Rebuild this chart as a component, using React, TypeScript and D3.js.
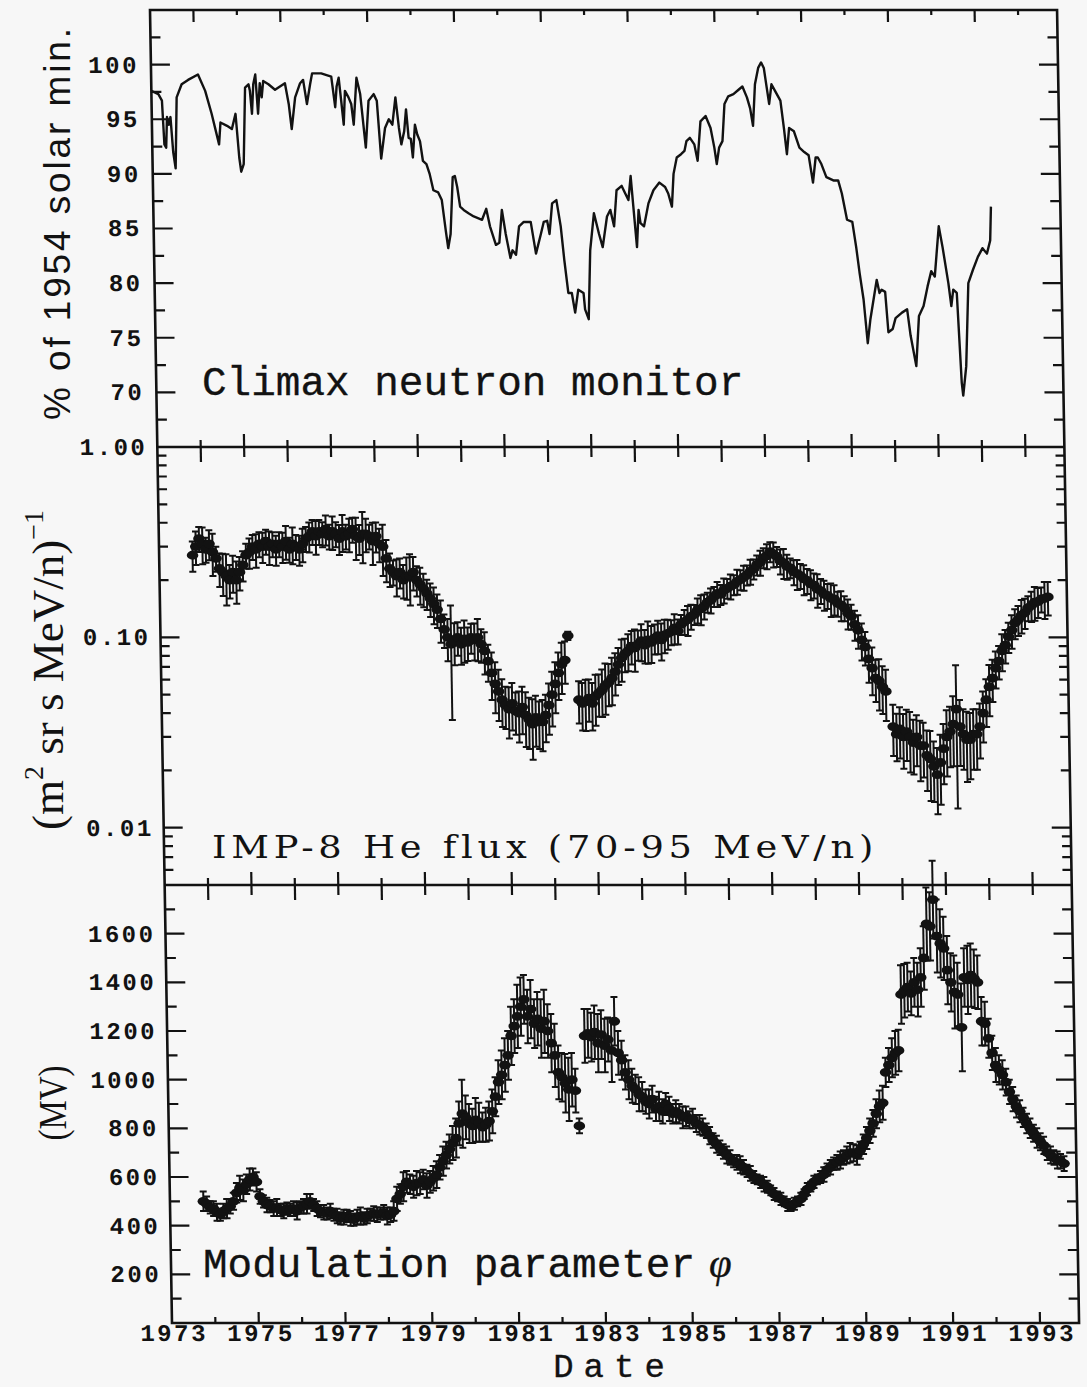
import React from "react";
import * as d3 from "d3";

// ---------------- data ----------------
const CLIMAX_YEARS = [
  1973.0, 1973.16, 1973.24, 1973.28, 1973.32, 1973.35, 1973.39, 1973.43, 1973.48, 1973.53,
  1973.58, 1973.7, 1973.85, 1974.08, 1974.24, 1974.38, 1974.54, 1974.58, 1974.73, 1974.84,
  1974.93, 1975.0, 1975.04, 1975.1, 1975.16, 1975.24, 1975.27, 1975.31, 1975.35, 1975.4,
  1975.45, 1975.5, 1975.54, 1975.58, 1975.7, 1975.85, 1976.08, 1976.16, 1976.22, 1976.31,
  1976.43, 1976.5, 1976.58, 1976.66, 1976.71, 1976.92, 1977.15, 1977.23, 1977.27, 1977.32,
  1977.37, 1977.42, 1977.46, 1977.54, 1977.6, 1977.65, 1977.73, 1977.81, 1977.92, 1978.0,
  1978.12, 1978.19, 1978.27, 1978.37, 1978.46, 1978.54, 1978.62, 1978.69, 1978.74, 1978.81,
  1978.86, 1978.91, 1978.96, 1979.0, 1979.06, 1979.11, 1979.17, 1979.23, 1979.31, 1979.38,
  1979.46, 1979.57, 1979.65, 1979.73, 1979.78, 1979.84, 1979.91, 1979.96, 1980.01, 1980.07,
  1980.15, 1980.26, 1980.38, 1980.57, 1980.67, 1980.75, 1980.88, 1980.96, 1981.03, 1981.11,
  1981.21, 1981.26, 1981.34, 1981.42, 1981.53, 1981.69, 1981.8, 1981.92, 1981.99, 1982.07,
  1982.12, 1982.19, 1982.29, 1982.38, 1982.45, 1982.53, 1982.61, 1982.68, 1982.76, 1982.88,
  1982.91, 1982.99, 1983.05, 1983.15, 1983.26, 1983.34, 1983.45, 1983.53, 1983.61, 1983.68,
  1983.8, 1983.88, 1983.95, 1984.01, 1984.05, 1984.13, 1984.18, 1984.22, 1984.3, 1984.41,
  1984.53, 1984.67, 1984.8, 1984.87, 1984.95, 1985.0, 1985.08, 1985.18, 1985.26, 1985.31,
  1985.39, 1985.49, 1985.56, 1985.64, 1985.76, 1985.87, 1985.95, 1986.0, 1986.06, 1986.14,
  1986.2, 1986.29, 1986.41, 1986.53, 1986.62, 1986.72, 1986.79, 1986.85, 1986.91, 1986.99,
  1987.06, 1987.12, 1987.18, 1987.23, 1987.29, 1987.37, 1987.49, 1987.56, 1987.62, 1987.68,
  1987.79, 1987.91, 1988.02, 1988.12, 1988.21, 1988.28, 1988.33, 1988.41, 1988.52, 1988.68,
  1988.79, 1988.87, 1988.98, 1989.1, 1989.18, 1989.25, 1989.33, 1989.41, 1989.48, 1989.56,
  1989.64, 1989.7, 1989.75, 1989.83, 1989.89, 1989.99, 1990.06, 1990.21, 1990.33, 1990.4,
  1990.52, 1990.6, 1990.71, 1990.81, 1990.9, 1990.98, 1991.09, 1991.17, 1991.29, 1991.35,
  1991.4, 1991.48, 1991.56, 1991.59, 1991.67, 1991.75, 1991.86, 1991.98, 1992.09, 1992.19,
  1992.27, 1992.3,
];
const CLIMAX_PCT = [
  97.6, 97.3, 96.7, 92.7, 92.4, 95.2, 94.5, 95.2, 92.0, 90.5,
  97.0, 98.2, 98.6, 99.1, 97.6, 95.5, 92.7, 94.7, 94.4, 94.1,
  95.5, 91.5, 90.2, 90.9, 97.9, 98.2, 97.6, 95.5, 98.2, 99.1,
  95.5, 98.3, 97.0, 98.5, 98.2, 97.7, 98.3, 96.4, 94.1, 97.0,
  98.3, 98.6, 96.4, 98.2, 99.2, 99.2, 98.9, 96.1, 98.0, 98.8,
  96.7, 94.5, 97.6, 97.0, 96.4, 94.5, 98.8, 97.3, 92.4, 96.7,
  97.3, 96.7, 91.4, 94.2, 95.0, 94.5, 97.0, 94.2, 92.7, 93.9,
  95.9, 93.3, 93.2, 91.5, 94.5, 93.6, 93.0, 91.2, 90.9, 90.0,
  88.5, 88.3, 87.6, 84.8, 83.2, 84.5, 89.7, 89.8, 88.8, 87.0,
  86.7, 86.4, 86.1, 85.8, 86.8, 85.2, 83.5, 83.7, 86.7, 84.5,
  82.3, 83.0, 82.6, 85.2, 85.6, 85.6, 82.7, 84.5, 85.6, 85.7,
  84.5, 87.3, 87.6, 85.2, 82.1, 79.1, 79.1, 77.3, 79.4, 79.1,
  77.6, 76.7, 83.0, 86.4, 84.5, 83.3, 86.1, 86.7, 85.2, 88.5,
  88.9, 88.2, 87.6, 89.8, 87.6, 83.3, 86.7, 85.5, 85.2, 87.3,
  88.5, 89.2, 88.8, 88.2, 87.0, 90.0, 91.5, 91.8, 92.1, 93.0,
  93.3, 92.7, 91.2, 94.8, 95.3, 94.2, 92.4, 90.9, 92.4, 93.0,
  96.4, 97.1, 97.3, 97.7, 98.0, 97.0, 96.0, 94.4, 98.2, 99.7,
  100.2, 99.7, 97.9, 96.4, 98.2, 97.6, 96.7, 94.2, 91.8, 94.2,
  93.9, 92.4, 92.0, 91.7, 89.2, 91.5, 91.5, 90.9, 89.7, 89.4,
  89.4, 88.2, 85.8, 85.6, 83.3, 80.9, 78.5, 74.5, 76.7, 78.5,
  80.3, 79.1, 79.4, 79.2, 75.5, 75.8, 76.8, 77.3, 77.6, 75.2,
  72.4, 77.0, 77.9, 79.7, 81.1, 80.6, 85.2, 83.3, 80.0, 77.9,
  79.4, 79.1, 70.9, 69.7, 72.4, 80.0, 81.2, 82.4, 83.2, 82.7,
  83.9, 87.0,
];

// IMP-8 samples: one value per ~28 days starting at SAMPLE_START
const SAMPLE_START = 1973.77;
const SAMPLE_STEP = 1 / 13;

const HE_FLUX: (number | null)[] = [
  0.27, 0.30, 0.33, 0.31, 0.29, 0.31, 0.28, 0.26, 0.23, 0.22, 0.21, 0.20, 0.22,
  0.20, 0.22, 0.24, 0.27, 0.28, 0.30, 0.29, 0.31, 0.30, 0.32, 0.30, 0.31, 0.29,
  0.31, 0.30, 0.32, 0.29, 0.31, 0.30, 0.29, 0.31, 0.33, 0.34, 0.36, 0.34, 0.36,
  0.35, 0.37, 0.34, 0.36, 0.35, 0.33, 0.36, 0.34, 0.35, 0.37, 0.34, 0.33, 0.35,
  0.35, 0.34, 0.32, 0.34, 0.31, 0.30, 0.26, 0.23, 0.22, 0.21, 0.22, 0.20, 0.21,
  0.21, 0.22, 0.20, 0.19, 0.18, 0.17, 0.16, 0.15, 0.14, 0.125, 0.11, 0.10, 0.092,
  0.095, 0.10, 0.092, 0.098, 0.094, 0.10, 0.097, 0.10, 0.092, 0.085, 0.075, 0.065, 0.057,
  0.052, 0.047, 0.044, 0.042, 0.045, 0.041, 0.040, 0.043, 0.039, 0.037, 0.035, 0.038, 0.036,
  0.036, 0.039, 0.044, 0.050, 0.057, 0.065, 0.072, 0.076, 0.102, null, null, 0.047, 0.045,
  0.046, 0.048, 0.045, 0.049, 0.051, 0.053, 0.056, 0.058, 0.061, 0.066, 0.072, 0.078, 0.082,
  0.085, 0.090, 0.088, 0.092, 0.096, 0.091, 0.097, 0.094, 0.099, 0.102, 0.097, 0.103, 0.105,
  0.107, 0.112, 0.108, 0.117, 0.121, 0.124, 0.129, 0.132, 0.139, 0.141, 0.146, 0.153, 0.157,
  0.164, 0.170, 0.168, 0.177, 0.181, 0.186, 0.189, 0.197, 0.201, 0.207, 0.213, 0.222, 0.229,
  0.240, 0.248, 0.262, 0.268, 0.282, 0.274, 0.266, 0.252, 0.247, 0.236, 0.232, 0.221, 0.216,
  0.211, 0.203, 0.199, 0.191, 0.188, 0.179, 0.176, 0.168, 0.166, 0.160, 0.159, 0.151, 0.148,
  0.143, 0.134, 0.129, 0.117, 0.109, 0.097, 0.089, 0.077, 0.069, 0.061, 0.059, 0.055, 0.052,
  null, 0.034, 0.031, 0.033, 0.030, 0.032, 0.030, 0.028, 0.030, 0.027, 0.027, 0.024, 0.023,
  0.021, 0.019, 0.022, 0.026, 0.030, 0.032, 0.035, 0.042, 0.034, 0.031, 0.029, 0.029, 0.031,
  0.031, 0.034, 0.040, 0.047, 0.055, 0.061, 0.069, 0.075, 0.085, 0.091, 0.101, 0.109, 0.119,
  0.124, 0.131, 0.135, 0.143, 0.147, 0.153, 0.154, 0.159, 0.160, 0.163,
];
const HE_ERR_PCT = [
  18, 20, 15, 22, 15, 18, 25, 15, 20, 25, 30, 20, 22,
  25, 20, 18, 15, 18, 15, 20, 15, 18, 15, 20, 15, 18,
  15, 18, 20, 15, 22, 15, 18, 20, 15, 18, 15, 20, 15,
  15, 18, 15, 20, 15, 18, 22, 15, 20, 15, 25, 18, 30,
  20, 15, 25, 18, 20, 30, 25, 20, 15, 22, 18, 20, 25,
  30, 20, 18, 22, 20, 18, 20, 22, 20, 25, 20, 25, 60,
  25, 20, 22, 25, 20, 18, 22, 25, 20, 25, 22, 28, 30,
  30, 28, 25, 30, 28, 25, 30, 28, 32, 30, 35, 30, 28,
  30, 28, 30, 32, 30, 28, 30, 25, 5, 0, 0, 25, 28,
  30, 25, 28, 30, 25, 28, 30, 25, 28, 25, 22, 25, 20,
  22, 20, 25, 18, 22, 20, 25, 22, 18, 20, 22, 20, 18,
  15, 18, 15, 12, 15, 18, 15, 12, 15, 18, 15, 12, 15,
  12, 15, 12, 15, 12, 15, 12, 15, 12, 15, 12, 15, 12,
  12, 15, 12, 15, 12, 15, 12, 15, 18, 15, 12, 15, 18,
  15, 18, 15, 18, 15, 20, 15, 18, 15, 20, 18, 15, 18,
  15, 18, 15, 18, 20, 22, 20, 25, 28, 25, 30, 28, 30,
  0, 30, 28, 30, 32, 30, 35, 32, 30, 35, 32, 35, 40,
  35, 38, 40, 35, 38, 35, 40, 70, 38, 35, 40, 38, 35,
  35, 32, 30, 28, 30, 25, 22, 20, 22, 20, 18, 20, 18,
  18, 20, 18, 15, 18, 20, 18, 15, 22, 20,
];

const PHI_MV: (number | null)[] = [
  500, 490, 475, 470, 455, 445, 460, 470, 480, 500, 535, 555, 545,
  570, 590, 600, 580, 520, 500, 485, 480, 470, 475, 465, 460, 470,
  465, 470, 460, 475, 480, 490, 500, 485, 470, 460, 455, 450, 460,
  445, 440, 430, 435, 440, 430, 425, 435, 440, 430, 440, 445, 450,
  445, 450, 455, 440, 445, 460, 510, 530, 560, 580, 570, 560, 575,
  575, 590, 565, 580, 595, 610, 640, 665, 690, 715, 740, 760, 820,
  860, 845, 820, 810, 835, 825, 805, 815, 830, 870, 930, 990, 1020,
  1060, 1100, 1180, 1220, 1260, 1300, 1330, 1260, 1290, 1230, 1250, 1210, 1240,
  1200, 1150, 1100, 1030, 1010, 985, 960, 1000, 955, 810, null, 1180, 1190,
  1175, 1195, 1150, 1185, 1140, 1165, 1120, 1240, 1110, 1080, 1030, 1000, 975,
  960, 940, 930, 910, 900, 920, 880, 890, 870, 900, 880, 860, 870,
  860, 845, 850, 835, 840, 820, 815, 805, 790, 770, 750, 735, 720,
  705, 690, 680, 665, 660, 650, 640, 625, 615, 600, 590, 580, 570,
  560, 545, 530, 520, 510, 500, 485, 480, 490, 500, 510, 530, 550,
  560, 580, 590, 600, 610, 630, 640, 655, 660, 670, 680, 690, 700,
  700, 690, 710, 735, 760, 790, 820, 860, 890, 905, 1030, 1060, 1090,
  1110, 1120, 1350, 1365, 1380, 1355, 1400, 1370, 1420, 1500, 1640, 1630, 1740,
  1590, 1560, 1540, 1450, 1400, 1360, 1350, 1215, 1420, 1410, 1430, 1415, 1400,
  1240, 1230, 1170, 1110, 1060, 1040, 1020, 990, 950, 920, 890, 870, 845,
  820, 800, 780, 760, 745, 730, 700, 690, 680, 670, 665, 655,
];
const PHI_ERR_MV = [
  40, 30, 25, 30, 35, 25, 30, 40, 30, 35, 40, 50, 45,
  40, 45, 35, 40, 30, 25, 30, 25, 30, 35, 25, 30, 25,
  25, 30, 35, 25, 30, 40, 30, 25, 30, 25, 30, 25, 30,
  25, 30, 25, 30, 25, 30, 25, 30, 35, 25, 30, 25, 30,
  30, 25, 30, 35, 30, 40, 50, 40, 60, 45, 40, 45, 50,
  45, 40, 50, 45, 50, 55, 50, 60, 55, 60, 70, 80, 90,
  140, 90, 80, 70, 90, 80, 60, 70, 80, 90, 80, 90, 100,
  110, 100, 120, 110, 130, 120, 100, 110, 120, 100, 110, 120, 130,
  110, 120, 130, 110, 100, 120, 130, 110, 90, 30, 0, 110, 100,
  100, 110, 120, 100, 110, 90, 130, 100, 90, 80, 70, 80, 70,
  60, 70, 60, 50, 60, 55, 50, 60, 50, 45, 50, 40, 45,
  40, 45, 40, 35, 40, 35, 40, 35, 30, 35, 30, 35, 30,
  30, 35, 30, 25, 30, 35, 30, 25, 30, 25, 20, 25, 30,
  25, 20, 25, 20, 25, 20, 25, 20, 25, 20, 25, 20, 25,
  20, 25, 20, 25, 30, 25, 30, 25, 30, 35, 30, 35, 40,
  35, 40, 35, 40, 45, 50, 55, 60, 65, 70, 60, 70, 80,
  90, 85, 120, 110, 100, 90, 100, 110, 120, 130, 150, 140, 160,
  150, 140, 130, 140, 120, 150, 130, 180, 120, 140, 130, 120, 110,
  100, 90, 80, 70, 70, 60, 60, 55, 50, 50, 45, 45, 40,
  40, 40, 35, 40, 35, 35, 30, 35, 30, 35, 30, 30,
];

// axis ticks / labels
const CLIMAX_TICKS = [70, 75, 80, 85, 90, 95, 100];
const HE_TICKS = [1, 0.1, 0.01];
const HE_TICK_LABELS = ["1.00", "0.10", "0.01"];
const PHI_TICKS = [200, 400, 600, 800, 1000, 1200, 1400, 1600];
const YEAR_LABELS = [1973, 1975, 1977, 1979, 1981, 1983, 1985, 1987, 1989, 1991, 1993];
const YEAR_DOMAIN = [1973, 1993.9];

// ---------------- layout ----------------
const W = 1087;
const H = 1387;
const SHEAR = 0.01675; // the scanned page is slightly sheared
const TOP = 10;
const B1 = 447;
const B2 = 885;
const BOTTOM = 1323;
const INK = "#121212";
const TICK_FONT = "'Liberation Mono', 'Courier New', monospace";

export default function App() {
  const x = d3.scaleLinear().domain(YEAR_DOMAIN).range([150, 150 + (YEAR_DOMAIN[1] - YEAR_DOMAIN[0]) * 43.4]);
  const y1 = d3.scaleLinear().domain([65, 105]).range([B1, TOP]);
  const y2 = d3.scaleLog().domain([0.005, 1]).range([B2, B1]);
  const y3 = d3.scaleLinear().domain([0, 1800]).range([BOTTOM, B2]);
  const xL = x(YEAR_DOMAIN[0]);
  const xR = x(YEAR_DOMAIN[1]);
  const skewDeg = (Math.atan(SHEAR) * 180) / Math.PI;

  const climaxLine = d3
    .line<number>()
    .x((_, i) => x(CLIMAX_YEARS[i]))
    .y((d) => y1(d))(CLIMAX_PCT);

  const sampleYear = (i: number) => SAMPLE_START + i * SAMPLE_STEP;

  const years = d3.range(1974, 1994);

  // left/right ticks for each panel
  const sideTicks: { y: number; len: number }[] = [];
  CLIMAX_TICKS.forEach((v) => sideTicks.push({ y: y1(v), len: 19 }));
  d3.range(67.5, 105, 5).forEach((v) => sideTicks.push({ y: y1(v), len: 10 }));
  HE_TICKS.slice(1).forEach((v) => sideTicks.push({ y: y2(v), len: 19 }));
  [0.001, 0.01, 0.1].forEach((dec) =>
    d3.range(2, 10).forEach((m) => {
      const v = dec * m;
      if (v >= 0.005 && v < 1) sideTicks.push({ y: y2(v), len: 9 });
    })
  );
  PHI_TICKS.forEach((v) => sideTicks.push({ y: y3(v), len: 19 }));
  d3.range(100, 1800, 200).forEach((v) => sideTicks.push({ y: y3(v), len: 10 }));

  const heMarks = HE_FLUX.map((v, i) =>
    v == null ? null : { t: sampleYear(i), v, e: HE_ERR_PCT[i] / 100 }
  ).filter((d) => d != null) as { t: number; v: number; e: number }[];
  const phiMarks = PHI_MV.map((v, i) =>
    v == null ? null : { t: sampleYear(i), v, e: PHI_ERR_MV[i] }
  ).filter((d) => d != null) as { t: number; v: number; e: number }[];

  const tickLabelStyle = {
    fontFamily: TICK_FONT,
    fontWeight: 700,
    fontSize: 24,
    letterSpacing: 2.5,
    fill: INK,
  } as React.CSSProperties;

  const titleFont = "'Liberation Mono', 'Courier New', monospace";

  return (
    <svg
      width={W}
      height={H}
      viewBox={`0 0 ${W} ${H}`}
      style={{ position: "absolute", left: 0, top: 0, display: "block" }}
    >
      <rect x={0} y={0} width={W} height={H} fill="#f7f7f7" />
      <g transform={`translate(${-SHEAR * TOP},0) skewX(${skewDeg})`}>
        {/* frame */}
        <rect x={xL} y={TOP} width={xR - xL} height={BOTTOM - TOP} fill="none" stroke={INK} strokeWidth={2.6} />
        <line x1={xL} x2={xR} y1={B1} y2={B1} stroke={INK} strokeWidth={2.6} />
        <line x1={xL} x2={xR} y1={B2} y2={B2} stroke={INK} strokeWidth={2.6} />

        {/* side ticks */}
        {sideTicks.map((t, i) => (
          <g key={"st" + i} stroke={INK} strokeWidth={2.2}>
            <line x1={xL} x2={xL + t.len} y1={t.y} y2={t.y} />
            <line x1={xR - t.len} x2={xR} y1={t.y} y2={t.y} />
          </g>
        ))}

        {/* year ticks */}
        {years.map((yr) => {
          const even = yr % 2 === 0;
          const xx = x(yr);
          return (
            <g key={"yt" + yr} stroke={INK} strokeWidth={2.2}>
              <line x1={xx} x2={xx} y1={TOP} y2={TOP + (even ? 12 : 5)} />
              <line x1={xx} x2={xx} y1={B1 - (even ? 7 : 13)} y2={B1 + (even ? 15 : 10)} />
              <line x1={xx} x2={xx} y1={B2 - (even ? 7 : 13)} y2={B2 + (even ? 15 : 10)} />
              <line x1={xx} x2={xx} y1={BOTTOM - (even ? 6 : 11)} y2={BOTTOM} />
            </g>
          );
        })}

        {/* tick labels */}
        {CLIMAX_TICKS.map((v) => (
          <text key={"cl" + v} x={xL - 12} y={y1(v) + 8} textAnchor="end" style={tickLabelStyle}>
            {v}
          </text>
        ))}
        {HE_TICKS.map((v, i) => (
          <text key={"hl" + v} x={xL - 10} y={y2(v) + 8} textAnchor="end" style={tickLabelStyle}>
            {HE_TICK_LABELS[i]}
          </text>
        ))}
        {PHI_TICKS.map((v) => (
          <text key={"pl" + v} x={xL - 10} y={y3(v) + 8} textAnchor="end" style={tickLabelStyle}>
            {v}
          </text>
        ))}
        {YEAR_LABELS.map((yr) => (
          <text key={"yl" + yr} x={x(yr) + 2} y={BOTTOM + 18} textAnchor="middle" style={tickLabelStyle}>
            {yr}
          </text>
        ))}

        {/* Climax neutron monitor */}
        <path d={climaxLine || ""} fill="none" stroke={INK} strokeWidth={2.4} strokeLinejoin="round" />

        {/* IMP-8 He flux */}
        <g stroke={INK} strokeWidth={2}>
          {heMarks.map((d, i) => {
            const xx = x(d.t);
            const hi = y2(d.v * (1 + d.e));
            const lo = y2(Math.max(d.v * (1 - d.e), 0.0051));
            return (
              <g key={"he" + i}>
                <line x1={xx} x2={xx} y1={hi} y2={lo} />
                <line x1={xx - 3.5} x2={xx + 3.5} y1={hi} y2={hi} />
                <line x1={xx - 3.5} x2={xx + 3.5} y1={lo} y2={lo} />
              </g>
            );
          })}
        </g>
        {heMarks.map((d, i) => (
          <ellipse key={"hm" + i} cx={x(d.t)} cy={y2(d.v)} rx={5.8} ry={4.4} fill={INK} />
        ))}

        {/* modulation parameter */}
        <g stroke={INK} strokeWidth={2}>
          {phiMarks.map((d, i) => {
            const xx = x(d.t);
            const hi = y3(d.v + d.e);
            const lo = y3(d.v - d.e);
            return (
              <g key={"ph" + i}>
                <line x1={xx} x2={xx} y1={hi} y2={lo} />
                <line x1={xx - 3.5} x2={xx + 3.5} y1={hi} y2={hi} />
                <line x1={xx - 3.5} x2={xx + 3.5} y1={lo} y2={lo} />
              </g>
            );
          })}
        </g>
        {phiMarks.map((d, i) => (
          <ellipse key={"pm" + i} cx={x(d.t)} cy={y3(d.v)} rx={5.8} ry={4.4} fill={INK} />
        ))}
      </g>

      {/* panel captions */}
      <text x={202} y={395} fontFamily={titleFont} fontSize={41} fill={INK} stroke={INK} strokeWidth={0.35}>
        Climax neutron monitor
      </text>
      <text
        x={212}
        y={858}
        fontFamily="'DejaVu Serif', 'Liberation Serif', serif"
        fontSize={31}
        letterSpacing={4}
        textLength={666}
        lengthAdjust="spacingAndGlyphs"
        fill={INK}
      >
        IMP-8 He flux (70-95 MeV/n)
      </text>
      <text x={203} y={1277} fontFamily={titleFont} fontSize={41} fill={INK} stroke={INK} strokeWidth={0.35}>
        Modulation parameter
        <tspan dx={14} fontFamily="'Liberation Serif', serif" fontStyle="italic" strokeWidth={0.3}>
          φ
        </tspan>
      </text>

      {/* x axis title */}
      <text
        x={614}
        y={1377}
        textAnchor="middle"
        fontFamily={titleFont}
        fontSize={34}
        letterSpacing={10}
        fill={INK}
        stroke={INK}
        strokeWidth={0.35}
      >
        Date
      </text>

      {/* y axis titles */}
      <text
        transform="translate(70,224) rotate(-90)"
        textAnchor="middle"
        fontFamily="'Liberation Sans', Arial, sans-serif"
        fontSize={37}
        textLength={392}
        lengthAdjust="spacing"
        fill={INK}
      >
        % of 1954 solar min.
      </text>
      <text
        transform="translate(63,670) rotate(-90)"
        textAnchor="middle"
        fontFamily="'Liberation Serif', 'Times New Roman', serif"
        fontSize={45}
        fill={INK}
      >
        (m
        <tspan fontSize={28} dy={-20}>
          2
        </tspan>
        <tspan dy={20}> sr s MeV/n)</tspan>
        <tspan fontSize={28} dy={-20}>
          −1
        </tspan>
      </text>
      <text
        transform="translate(66,1103) rotate(-90)"
        textAnchor="middle"
        fontFamily="'Liberation Serif', 'Times New Roman', serif"
        fontSize={40}
        textLength={75}
        lengthAdjust="spacingAndGlyphs"
        fill={INK}
      >
        (MV)
      </text>
    </svg>
  );
}
